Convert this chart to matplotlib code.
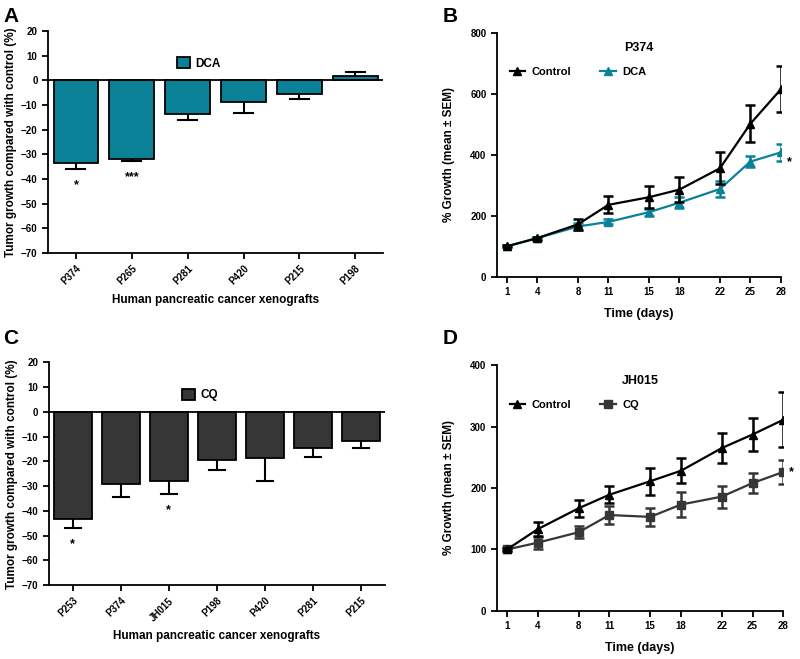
import numpy as np
import matplotlib
matplotlib.use("Agg")
from matplotlib import pyplot as plt
from matplotlib.patches import Patch
from matplotlib.lines import Line2D

plt.rcParams['font.family'] = ['Liberation Sans', 'DejaVu Sans']
plt.rcParams['font.weight'] = 'bold'
plt.rcParams['axes.labelweight'] = 'bold'

# Panel A - DCA
dca_names = ["P374", "P265", "P281", "P420", "P215", "P198"]
dca_vals = [-33.5, -32.0, -13.8, -8.8, -5.7, 1.7]
dca_err = [2.6, 0.7, 2.3, 4.6, 1.8, 1.8]
dca_stars = ["*", "***", "", "", "", ""]

# Panel C - CQ
cq_names = ["P253", "P374", "JH015", "P198", "P420", "P281", "P215"]
cq_vals = [-43.2, -29.3, -27.9, -19.5, -18.8, -14.4, -11.7]
cq_err = [3.8, 5.0, 5.3, 3.8, 9.1, 4.0, 3.0]
cq_stars = ["*", "", "*", "", "", "", ""]

# Panels B and D - growth curves
days = [1, 4, 8, 11, 15, 18, 22, 25, 28]
b_ctrl = [100, 127, 172, 236, 261, 286, 356, 502, 615]
b_ctrl_err = [3, 5, 18, 28, 36, 42, 52, 60, 75]
b_dca = [100, 127, 165, 180, 212, 243, 288, 378, 408]
b_dca_err = [3, 5, 10, 8, 12, 18, 25, 18, 28]

d_ctrl = [100, 133, 167, 189, 211, 228, 265, 287, 311]
d_ctrl_err = [3, 11, 14, 14, 22, 20, 25, 27, 45]
d_cq = [100, 111, 128, 156, 153, 173, 186, 208, 226]
d_cq_err = [3, 10, 10, 15, 15, 20, 18, 16, 20]

teal = "#0b8198"
dark = "#363636"

fig = plt.figure(figsize=(8, 6.59), dpi=100)


def bar_panel(rect, names, vals, errs, stars, color, label):
    ax = fig.add_axes(rect)
    x = np.arange(len(names))
    ax.bar(x, vals, width=0.8, color=color, edgecolor="black", linewidth=1.3, zorder=2)
    for xi, v, e in zip(x, vals, errs):
        end = v - e if v < 0 else v + e
        ax.plot([xi, xi], [v, end], color="black", lw=1.5, zorder=1)
        ax.plot([xi - 0.17, xi + 0.17], [end, end], color="black", lw=1.5, zorder=1)
    for xi, v, e, s in zip(x, vals, errs, stars):
        if s:
            ax.text(xi, v - e - 6.5, s, ha="center", va="center", fontsize=9)
    ax.axhline(0, color="black", lw=1.3, zorder=3)
    ax.set_xlim(-0.5, len(names) - 0.5)
    ax.set_ylim(-70, 20)
    ax.set_yticks(range(-70, 21, 10))
    ax.set_xticks(x)
    ax.set_xticklabels(names, rotation=45, ha="right", rotation_mode="anchor")
    ax.spines["top"].set_visible(False)
    ax.spines["right"].set_visible(False)
    for sp in ("left", "bottom"):
        ax.spines[sp].set_linewidth(1.3)
    ax.tick_params(labelsize=7, width=1.3, length=4)
    ax.set_ylabel("Tumor growth compared with control (%)", fontsize=8.5, labelpad=3)
    ax.set_xlabel("Human pancreatic cancer xenografts", fontsize=8.5, labelpad=5)
    ax.legend(handles=[Patch(facecolor=color, edgecolor="black", linewidth=1.3, label=label)],
              loc="upper center", bbox_to_anchor=(0.45, 0.93), frameon=False,
              fontsize=8.5, handlelength=1.1, handleheight=1.1, handletextpad=0.5)
    return ax


def line_panel(rect, ctrl, ctrl_err, trt, trt_err, trt_color, trt_marker, label, title, ymax, star_y):
    ax = fig.add_axes(rect)
    ax.errorbar(days, ctrl, yerr=ctrl_err, color="black", marker="^", ms=5.5, lw=1.6,
                elinewidth=1.8, capsize=3.5, capthick=1.8, zorder=3)
    ax.errorbar(days, trt, yerr=trt_err, color=trt_color, marker=trt_marker, ms=5.5, lw=1.6,
                elinewidth=1.8, capsize=3.5, capthick=1.8, zorder=2)
    ax.set_xlim(0, 28)
    ax.set_ylim(0, ymax)
    ax.set_xticks(days)
    ax.set_yticks(np.arange(0, ymax + 1, ymax // 4))
    ax.spines["top"].set_visible(False)
    ax.spines["right"].set_visible(False)
    for sp in ("left", "bottom"):
        ax.spines[sp].set_linewidth(1.3)
    ax.tick_params(labelsize=7, width=1.3, length=4)
    ax.set_ylabel("% Growth (mean \u00b1 SEM)", fontsize=8.5, labelpad=11)
    ax.set_xlabel("Time (days)", fontsize=9, labelpad=8)
    ax.set_title(title, fontsize=9, fontweight="bold", y=0.89)
    ax.text(28.6, star_y, "*", fontsize=9, ha="left", va="center", clip_on=False)
    handles = [Line2D([], [], color="black", marker="^", ms=5.5, lw=1.6, label="Control"),
               Line2D([], [], color=trt_color, marker=trt_marker, ms=5.5, lw=1.6, label=label)]
    ax.legend(handles=handles, loc="upper left", bbox_to_anchor=(0.01, 0.9), ncol=2,
              frameon=False, fontsize=8, handlelength=1.4, handletextpad=0.6, columnspacing=2.6)
    return ax


bar_panel([0.06, 0.616, 0.419, 0.337], dca_names, dca_vals, dca_err, dca_stars, teal, "DCA")
line_panel([0.621, 0.580, 0.355, 0.370], b_ctrl, b_ctrl_err, b_dca, b_dca_err, teal, "^",
           "DCA", "P374", 800, 377)
bar_panel([0.061, 0.112, 0.42, 0.338], cq_names, cq_vals, cq_err, cq_stars, dark, "CQ")
line_panel([0.621, 0.073, 0.358, 0.373], d_ctrl, d_ctrl_err, d_cq, d_cq_err, dark, "s",
           "CQ", "JH015", 400, 226)

for lab, xx, yy in [("A", 0.004, 0.99), ("B", 0.553, 0.99), ("C", 0.004, 0.5), ("D", 0.553, 0.5)]:
    fig.text(xx, yy, lab, fontsize=15, fontweight="bold", va="top")

fig.savefig("out.png", dpi=100)
